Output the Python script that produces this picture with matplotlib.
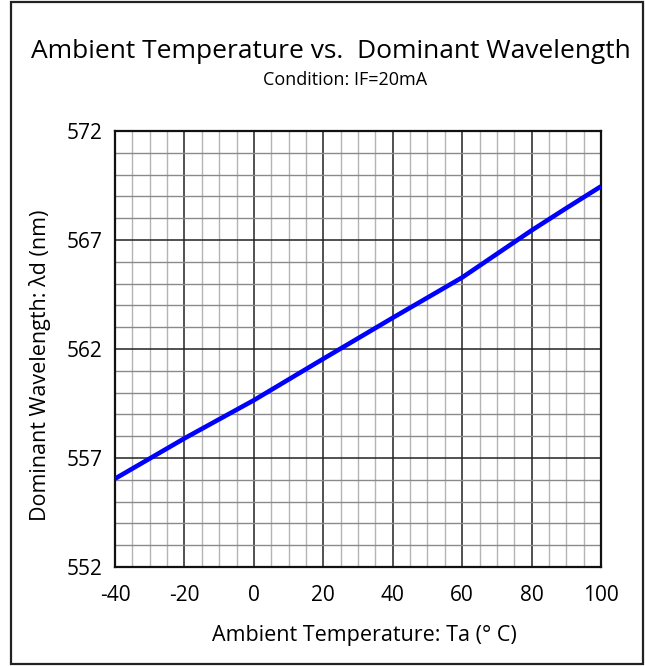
import matplotlib
matplotlib.use("Agg")
import matplotlib.pyplot as plt
from matplotlib.patches import Rectangle
from matplotlib.ticker import MultipleLocator

# Datos
temperatura = [-40, -20, 0, 20, 40, 60, 70, 80, 90, 100]
longitud_onda = [556.05, 557.90, 559.65, 561.55, 563.43, 565.28, 566.36,
                 567.44, 568.46, 569.46]
ticks_y = [552, 557, 562, 567, 572]

titulo = "Ambient Temperature vs.  Dominant Wavelength"
subtitulo = "Condition: IF=20mA"
etiqueta_x = "Ambient Temperature: Ta (° C)"
etiqueta_y = "Dominant Wavelength: λd (nm)"

W, H = 645, 666
plt.rcParams["font.family"] = ["Open Sans", "DejaVu Sans"]
plt.rcParams["axes.unicode_minus"] = False

fig = plt.figure(figsize=(W / 100, H / 100), dpi=100)

# Marco exterior
fig.patches.append(Rectangle((11 / W, 1 - 664 / H), 632 / W, 662 / H,
                             transform=fig.transFigure, fill=False,
                             edgecolor="#222222", linewidth=1.6))

ax = fig.add_axes([115 / W, 1 - 567 / H, 486 / W, 436 / H])
ax.plot(temperatura, longitud_onda, color="#0000ff", linewidth=3.3,
        solid_capstyle="butt", solid_joinstyle="round", zorder=5)

ax.set_xlim(-40, 100)
ax.set_ylim(552, 572)
ax.xaxis.set_major_locator(MultipleLocator(20))
ax.xaxis.set_minor_locator(MultipleLocator(5))
ax.set_yticks(ticks_y)
ax.yaxis.set_minor_locator(MultipleLocator(1))

ax.grid(which="major", color="#222222", linewidth=1.1)
ax.grid(which="minor", axis="y", color="#8a8a8a", linewidth=1.0)
ax.grid(which="minor", axis="x", color="#b4b4b4", linewidth=1.0)
ax.set_axisbelow(True)

ax.tick_params(which="both", length=0)
ax.tick_params(axis="x", labelsize=15, pad=13)
ax.tick_params(axis="y", labelsize=15, pad=9)
for s in ax.spines.values():
    s.set_linewidth(1.6)
    s.set_color("#111111")

fig.text(331 / W, 1 - 52 / H, titulo, ha="center", va="center", fontsize=19)
fig.text(345 / W, 1 - 80 / H, subtitulo, ha="center", va="center", fontsize=13)
fig.text(364 / W, 1 - 635 / H, etiqueta_x, ha="center", va="center", fontsize=15.5)
fig.text(40 / W, 1 - 365 / H, etiqueta_y, ha="center", va="center",
         fontsize=15.5, rotation=90)

fig.savefig("out.png", dpi=100)
